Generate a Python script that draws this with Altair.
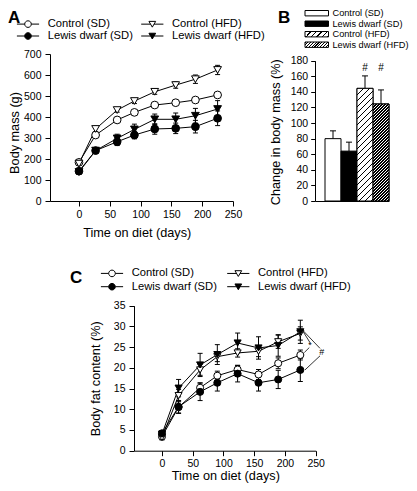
import altair as alt
import pandas as pd

FONT = "Liberation Sans"

# ---------------- data ----------------
days = [0, 27, 62, 90, 123, 157, 189, 225]
groups = ["Control (SD)", "Control (HFD)", "Lewis dwarf (SD)", "Lewis dwarf (HFD)"]
legend_order = ["Control (SD)", "Lewis dwarf (SD)", "Control (HFD)", "Lewis dwarf (HFD)"]

# Panel A: body mass (g), mean and SEM
mass_control_sd = [184, 314, 386, 422, 457, 468, 481, 505]
mass_control_sd_sem = [6, 8, 8, 8, 8, 8, 10, 12]
mass_control_hfd = [178, 343, 433, 476, 520, 552, 580, 624]
mass_control_hfd_sem = [8, 12, 10, 12, 12, 15, 20, 22]
mass_lewis_sd = [142, 240, 282, 314, 343, 346, 354, 394]
mass_lewis_sd_sem = [10, 12, 18, 18, 25, 25, 30, 35]
mass_lewis_hfd = [138, 240, 298, 341, 389, 389, 406, 438]
mass_lewis_hfd_sem = [10, 12, 20, 25, 25, 30, 35, 40]

# Panel B: change in body mass (%)
change_groups = ["Control (SD)", "Lewis dwarf (SD)", "Control (HFD)", "Lewis dwarf (HFD)"]
change_values = [80, 64, 144.5, 124.5]
change_sem = [10, 11.5, 16, 18]
sig_groups = ["Control (HFD)", "Lewis dwarf (HFD)"]
sig_labels = ["#", "#"]
sig_level = [170, 170]

# Panel C: body fat content (%)
fat_control_sd = [3.4, 10.5, 15.2, 18.1, 19.6, 18.4, 21.1, 23.1]
fat_control_sd_sem = [0.6, 1.5, 1.2, 1.1, 1.0, 1.2, 1.3, 1.2]
fat_control_hfd = [3.2, 13.3, 19.5, 22.7, 23.6, 24.0, 26.3, 28.3]
fat_control_hfd_sem = [0.6, 1.5, 1.3, 1.2, 1.0, 1.3, 1.6, 1.6]
fat_lewis_sd = [4.2, 10.6, 14.2, 16.4, 18.6, 16.4, 17.2, 19.5]
fat_lewis_sd_sem = [0.6, 1.5, 2.1, 2.0, 2.0, 2.0, 2.2, 2.8]
fat_lewis_hfd = [4.0, 15.1, 20.7, 23.2, 26.0, 24.8, 25.4, 28.7]
fat_lewis_hfd_sem = [0.6, 2.1, 2.8, 2.4, 2.4, 2.7, 2.6, 2.8]

# Panel C significance brackets (day, %)
bracket_x1 = [229.8, 239.6, 230.0, 257.0]
bracket_y1 = [28.7, 24.9, 28.9, 22.9]
bracket_x2 = [240.7, 231.5, 257.0, 232.6]
bracket_y2 = [26.1, 23.7, 24.7, 19.5]
bracket_labels = ["*", "#"]
bracket_label_x = [240.7, 259.8]
bracket_label_y = [25.4, 23.8]

# ---------------- layout (pixels inside the drawing, page minus 8px margin) ----------------
W, H = 401, 475

# ---------------- helpers ----------------
def long_df(series, sems):
    rows = []
    for g, vals, errs in zip(groups, series, sems):
        for d, v, e in zip(days, vals, errs):
            rows.append({"group": g, "day": d, "value": v, "lo": v - e, "hi": v + e})
    return pd.DataFrame(rows)


LEG_CIRCLE = "M-1.85,0H-0.55M0.55,0H1.85M0.55,0A0.55,0.55,0,1,1,-0.55,0A0.55,0.55,0,1,1,0.55,0Z"
LEG_TRI = "M-1.85,0H-0.29M0.29,0H1.85M-0.56,-0.46L0.56,-0.46L0,0.5Z"
shape_of = {"Control (SD)": "circle", "Control (HFD)": "triangle-down",
            "Lewis dwarf (SD)": "circle", "Lewis dwarf (HFD)": "triangle-down"}
legshape_of = {"Control (SD)": LEG_CIRCLE, "Control (HFD)": LEG_TRI,
               "Lewis dwarf (SD)": LEG_CIRCLE, "Lewis dwarf (HFD)": LEG_TRI}
fill_of = {"Control (SD)": "white", "Control (HFD)": "white",
           "Lewis dwarf (SD)": "black", "Lewis dwarf (HFD)": "black"}


def letter(t, x, y):
    return alt.Chart(pd.DataFrame({"t": [t]})).mark_text(
        align="left", baseline="top", font=FONT, fontSize=17, fontWeight="bold", color="black"
    ).encode(x=alt.value(x), y=alt.value(y), text="t:N")


def make_legend(lx, ly, colpad, rowpad):
    return alt.Legend(
        title=None, orient="none", legendX=lx, legendY=ly, columns=2, columnPadding=colpad,
        rowPadding=rowpad, labelOffset=13.2, symbolSize=144, symbolStrokeWidth=1,
        symbolOpacity=1, labelFont=FONT, labelFontSize=11.2, labelColor="black", padding=0,
    )


def line_panel(df, xscale, yscale, xaxis, yaxis, psize, legend, extra=None):
    base = alt.Chart(df)

    def X(f):
        return alt.X(f, scale=xscale, axis=xaxis)

    def Y(f):
        return alt.Y(f, scale=yscale, axis=yaxis)

    errs = base.mark_rule(color="black", strokeWidth=1).encode(x=X("day:Q"), y=Y("lo:Q"), y2="hi:Q")
    cap_lo = base.mark_tick(orient="horizontal", size=5, thickness=1, color="black", opacity=1).encode(x=X("day:Q"), y=Y("lo:Q"))
    cap_hi = base.mark_tick(orient="horizontal", size=5, thickness=1, color="black", opacity=1).encode(x=X("day:Q"), y=Y("hi:Q"))
    line = base.mark_line(color="black", strokeWidth=1).encode(x=X("day:Q"), y=Y("value:Q"), detail="group:N")
    pts = base.mark_point(filled=True, opacity=1, size=psize, stroke="black", strokeWidth=1).encode(
        x=X("day:Q"), y=Y("value:Q"),
        shape=alt.Shape("group:N", scale=alt.Scale(domain=legend_order, range=[shape_of[g] for g in legend_order]), legend=None),
        fill=alt.Fill("group:N", scale=alt.Scale(domain=legend_order, range=[fill_of[g] for g in legend_order]), legend=None),
    )
    leg = base.mark_point(filled=True, opacity=1, size=0, strokeWidth=1).encode(
        x=X("day:Q"), y=Y("value:Q"),
        shape=alt.Shape("group:N", scale=alt.Scale(domain=legend_order, range=[legshape_of[g] for g in legend_order]), legend=legend),
        fill=alt.Fill("group:N", scale=alt.Scale(domain=legend_order, range=[fill_of[g] for g in legend_order]), legend=legend),
        stroke=alt.Stroke("group:N", scale=alt.Scale(domain=legend_order, range=["black"] * 4), legend=legend),
    )
    layers = [errs, cap_lo, cap_hi, line, pts, leg]
    if extra:
        layers += extra(X, Y)
    return alt.layer(*layers).resolve_scale(shape="independent", fill="independent", stroke="independent")


def hatch_gradient(w, h, period, line):
    L = w + h
    a = w * L / (w * w + h * h)
    b = h * L / (w * w + h * h)
    stops = [{"offset": 0, "color": "white"}]
    k = 0
    while k * period < L:
        s = k * period / L
        e = min(1, (k * period + line) / L)
        stops += [{"offset": s, "color": "white"}, {"offset": s, "color": "black"},
                  {"offset": e, "color": "black"}, {"offset": e, "color": "white"}]
        k += 1
    stops.append({"offset": 1, "color": "white"})
    return {"gradient": "linear", "x1": 0, "y1": 0, "x2": a, "y2": b, "stops": stops}


# ---------------- panel A ----------------
A_X = [42, 225]
A_Y = [193, 46]
dfA = long_df([mass_control_sd, mass_control_hfd, mass_lewis_sd, mass_lewis_hfd],
              [mass_control_sd_sem, mass_control_hfd_sem, mass_lewis_sd_sem, mass_lewis_hfd_sem])
A = line_panel(
    dfA,
    alt.Scale(domain=[-47, 250], range=A_X, nice=False, zero=False),
    alt.Scale(domain=[0, 700], range=A_Y, nice=False),
    alt.Axis(orient="bottom", offset=A_Y[0] - H, values=[0, 50, 100, 150, 200, 250],
             title="Time on diet (days)", labelPadding=3, titleX=128.7, titleY=35, titleBaseline="alphabetic"),
    alt.Axis(orient="left", offset=-A_X[0], values=list(range(0, 701, 100)), title="Body mass (g)",
             labelPadding=4, titleX=-31.5, titleY=124.5, titleBaseline="alphabetic"),
    60, make_legend(13.5, 9.5, 5.3, 0),
)

# ---------------- panel B ----------------
B_X = [307, 381]
B_Y = [193, 52.7]
px_per = (B_Y[0] - B_Y[1]) / 180.0
dfB = pd.DataFrame({"group": change_groups, "value": change_values,
                    "hi": [v + e for v, e in zip(change_values, change_sem)]})
xB = alt.X("group:N", sort=change_groups,
           scale=alt.Scale(domain=change_groups, range=B_X, paddingInner=0, paddingOuter=0.3125, align=1),
           axis=alt.Axis(orient="bottom", offset=B_Y[0] - H, title=None, labels=False, ticks=False, domain=True))
yscaleB = alt.Scale(domain=[0, 180], range=B_Y, nice=False)
yaxisB = alt.Axis(orient="left", offset=-B_X[0], values=list(range(0, 181, 20)), title="Change in body mass (%)",
                  labelPadding=3, tickSize=4.3, titleX=-36, titleY=123.7, titleBaseline="alphabetic")


def YB(f):
    return alt.Y(f, scale=yscaleB, axis=yaxisB)


baseB = alt.Chart(dfB)
bars = baseB.mark_bar(stroke="black", strokeWidth=1, opacity=1).encode(
    x=xB, y=YB("value:Q"),
    fill=alt.Fill("group:N", scale=alt.Scale(domain=change_groups, range=["white", "black", "white", "white"]), legend=None),
)
hatch_periods = {"Control (HFD)": 6.0, "Lewis dwarf (HFD)": 3.0}
hatch_layers = []
for g, per in hatch_periods.items():
    v = change_values[change_groups.index(g)]
    grad = hatch_gradient(16, v * px_per, per, 1.3)
    hatch_layers.append(
        baseB.transform_filter(alt.datum.group == g).mark_bar(fill=grad, stroke="black", strokeWidth=1, opacity=1).encode(x=xB, y=YB("value:Q"))
    )
err_b = baseB.mark_rule(color="black", strokeWidth=1).encode(x=xB, y=YB("value:Q"), y2="hi:Q")
cap_b = baseB.mark_tick(orient="horizontal", size=6, thickness=1, color="black", opacity=1).encode(x=xB, y=YB("hi:Q"))
sig = alt.Chart(pd.DataFrame({"group": sig_groups, "label": sig_labels, "level": sig_level})).mark_text(
    font=FONT, fontSize=10, baseline="middle", color="black").encode(x=xB, y=YB("level:Q"), text="label:N")

# manual legend for B (hatched swatches)
leg_rows = [5.2, 15.7, 26.2, 36.7]
leg_fills = ["white", "black", hatch_gradient(23.5, 5.4, 5.5, 1.3), hatch_gradient(23.5, 5.4, 2.8, 1.2)]
leg_layers = []
for name, yy, f in zip(change_groups, leg_rows, leg_fills):
    one = alt.Chart(pd.DataFrame({"name": [name]}))
    leg_layers.append(one.mark_rect(fill=f, stroke="black", strokeWidth=1, opacity=1).encode(
        x=alt.value(297), x2=alt.value(320.5), y=alt.value(yy - 2.7), y2=alt.value(yy + 2.7)))
    leg_layers.append(one.mark_text(align="left", baseline="middle", font=FONT, fontSize=9.2, color="black").encode(
        x=alt.value(324.5), y=alt.value(yy), text="name:N"))

B = alt.layer(bars, *hatch_layers, err_b, cap_b, sig).resolve_scale(fill="independent")

# ---------------- panel C ----------------
C_X = [126, 307.7]
C_Y = [442.7, 297.7]
dfC = long_df([fat_control_sd, fat_control_hfd, fat_lewis_sd, fat_lewis_hfd],
              [fat_control_sd_sem, fat_control_hfd_sem, fat_lewis_sd_sem, fat_lewis_hfd_sem])


def brackets(X, Y):
    br = alt.Chart(pd.DataFrame({"x1": bracket_x1, "y1": bracket_y1, "x2": bracket_x2, "y2": bracket_y2})).mark_rule(
        color="black", strokeWidth=0.8).encode(x=X("x1:Q"), y=Y("y1:Q"), x2="x2:Q", y2="y2:Q")
    brt = alt.Chart(pd.DataFrame({"label": bracket_labels, "bx": bracket_label_x, "by": bracket_label_y})).mark_text(
        font=FONT, fontSize=9, baseline="middle", color="black").encode(x=X("bx:Q"), y=Y("by:Q"), text="label:N")
    return [br, brt]


C = line_panel(
    dfC,
    alt.Scale(domain=[-45.5, 250], range=C_X, nice=False, zero=False),
    alt.Scale(domain=[0, 35], range=C_Y, nice=False),
    alt.Axis(orient="bottom", offset=C_Y[0] - H, values=[0, 50, 100, 150, 200, 250],
             title="Time on diet (days)", labelPadding=3, titleX=217.3, titleY=28.8, titleBaseline="alphabetic"),
    alt.Axis(orient="left", offset=-C_X[0], values=list(range(0, 36, 5)), title="Body fat content (%)",
             labelPadding=4, titleX=-34.2, titleY=370.3, titleBaseline="alphabetic"),
    50, make_legend(97.5, 258.8, 7.3, 1.4), extra=brackets,
)

chart = alt.layer(
    A, B, C, *leg_layers, letter("A", 0, 1.5), letter("B", 270, 1.5), letter("C", 62, 262)
).resolve_scale(
    x="independent", y="independent", shape="independent", fill="independent", stroke="independent"
).properties(
    width=W, height=H, padding=0, background="white", autosize=alt.AutoSizeParams(type="none")
).configure_view(stroke=None).configure_axis(
    domainColor="black", tickColor="black", labelColor="black", titleColor="black",
    labelFont=FONT, titleFont=FONT, labelFontSize=10.5, titleFontSize=12.7, titleFontWeight="normal",
    grid=False, tickSize=5, domainWidth=1, tickWidth=1, labelFlush=False, labelOverlap=False,
)

chart.save("out.html", embed_options={"renderer": "svg", "actions": False})
